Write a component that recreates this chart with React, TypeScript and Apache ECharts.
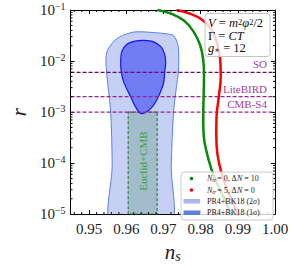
import React, { useEffect, useRef } from 'react';
import * as echarts from 'echarts';

const FONT = "'Liberation Serif', 'DejaVu Serif', 'Times New Roman', serif";

const X_MIN = 0.945;
const X_MAX = 1.0;
const Y_MIN = 1e-5;
const Y_MAX = 1e-1;

// PR4+BK18 2-sigma contour (ns, r)
const sigma2Ns = [0.9563, 0.9562, 0.9558, 0.9551, 0.9546, 0.9547, 0.9558, 0.9578, 0.9609, 0.9629, 0.9672, 0.971, 0.9727, 0.9739, 0.9741, 0.974, 0.9735, 0.9727, 0.9721, 0.9715];
const sigma2R = [5e-6, 1e-4, 1e-3, 3.15e-3, 7.46e-3, 1.43e-2, 2.05e-2, 2.85e-2, 3.54e-2, 3.75e-2, 3.62e-2, 3.4e-2, 3.15e-2, 2.05e-2, 1.01e-2, 6.0e-3, 3.15e-3, 1e-3, 1e-4, 5e-6];

// PR4+BK18 1-sigma contour (ns, r)
const sigma1Ns = [0.9647, 0.9672, 0.9693, 0.9703, 0.9706, 0.9704, 0.97, 0.9687, 0.9672, 0.9654, 0.9639, 0.9626, 0.9611, 0.9593, 0.9586, 0.9585, 0.9588, 0.9601, 0.9624];
const sigma1R = [2.54e-2, 2.4e-2, 1.91e-2, 1.37e-2, 9.27e-3, 6.85e-3, 3.63e-3, 2.04e-3, 1.32e-3, 1.0e-3, 9.4e-4, 1.22e-3, 2.04e-3, 3.91e-3, 6.47e-3, 1.05e-2, 1.54e-2, 2.11e-2, 2.46e-2];

// Euclid+CMB band
const euclidNs = [0.9605, 0.9683];
const euclidR = [1e-5, 1e-3];

// Model curves
const greenNs = [0.9684, 0.9722, 0.9755, 0.978, 0.9798, 0.9807, 0.9809, 0.9808, 0.9807, 0.9808, 0.9816, 0.9828, 0.9843, 0.9861, 0.9881];
const greenR = [1e-1, 8.41e-2, 6.21e-2, 3.86e-2, 2.11e-2, 1.05e-2, 4.84e-3, 2.04e-3, 8.6e-4, 3.62e-4, 1.66e-4, 7.96e-5, 4.17e-5, 2.18e-5, 1e-5];
const redNs = [0.9735, 0.9773, 0.9803, 0.9828, 0.9843, 0.9852, 0.9854, 0.9849, 0.9843, 0.9842, 0.9845, 0.9856, 0.9871, 0.9886, 0.9899];
const redR = [1e-1, 8.41e-2, 6.49e-2, 4.21e-2, 2.4e-2, 1.15e-2, 4.84e-3, 2.04e-3, 8.6e-4, 3.62e-4, 1.52e-4, 6.43e-5, 3.08e-5, 1.75e-5, 1e-5];

// Experiments sensitivity lines
const experiments = ['SO', 'LiteBIRD', 'CMB-S4'];
const experimentR = [6e-3, 2e-3, 1e-3];
const experimentLineColor = ['#6a0a6a', '#8e2a8e', '#8e2a8e'];

const boxLines = [
  '{i|V}{r| = }{i|m}{sup|2}{i|φ}{sup|2}{r|/2}',
  '{r|Γ = }{i|CT}',
  '{i|g}{sub|∗}{r| = 12}',
];

const legendLabels = [
  '{i|N}{sub|tr}{r|= 0, Δ}{i|N}{r| = 10}',
  '{i|N}{sub|tr}{r|= 5, Δ}{i|N}{r| = 0}',
  '{r|PR4+BK18 (2}{i|σ}{r|)}',
  '{r|PR4+BK18 (1}{i|σ}{r|)}',
];

const xMinor: number[] = [];
for (let k = 946; k < 1000; k += 2) {
  if (k % 10 !== 0) xMinor.push(k / 1000);
}
const yMinor: number[] = [];
for (let e = -5; e < -1; e++) {
  for (let m = 2; m <= 9; m++) yMinor.push(m * Math.pow(10, e));
}

export default function App() {
  const ref = useRef<HTMLDivElement>(null);
  useEffect(() => {
    document.body.style.margin = '0';
    const chart = echarts.init(ref.current!, null, { renderer: 'svg' });

    const axisLine = { show: true, onZero: false, lineStyle: { color: '#000', width: 1 } };
    const axisTick = { show: true, inside: true, length: 4, lineStyle: { color: '#000', width: 1 } };

    const polygonSeries = (ns: number[], rs: number[], fill: string, stroke: string, lw: number, z: number) => ({
      type: 'custom',
      coordinateSystem: 'cartesian2d',
      clip: true,
      z,
      silent: true,
      data: [[ns[0], rs[0]]],
      renderItem: (_p: any, api: any) => ({
        type: 'polygon',
        shape: { points: ns.map((x, i) => api.coord([x, rs[i]])), smooth: 0.35 },
        style: { fill, stroke, lineWidth: lw },
      }),
    });

    const option: any = {
      animation: false,
      grid: { left: 57, right: 17, top: 10, bottom: 45, containLabel: false },
      xAxis: [
        {
          type: 'value', min: X_MIN, max: X_MAX, splitNumber: 5, minInterval: 0.01, maxInterval: 0.01,
          position: 'bottom', axisLine, axisTick, splitLine: { show: false },
          axisLabel: {
            show: true, margin: 7, fontFamily: FONT, fontSize: 15, color: '#222', showMinLabel: false,
            formatter: (v: number) => v.toFixed(2),
          },
          name: '{n|n}{s|s}', nameLocation: 'middle', nameGap: 27,
          nameTextStyle: {
            rich: {
              n: { fontFamily: FONT, fontStyle: 'italic', fontSize: 21, lineHeight: 21, color: '#222' },
              s: { fontFamily: FONT, fontStyle: 'italic', fontSize: 14, lineHeight: 14, padding: [8, 0, 0, 0], color: '#222' },
            },
          },
        },
        {
          type: 'value', min: X_MIN, max: X_MAX, splitNumber: 5, minInterval: 0.01, maxInterval: 0.01,
          position: 'top', axisLine, axisTick, splitLine: { show: false }, axisLabel: { show: false },
        },
      ],
      yAxis: [
        {
          type: 'log', logBase: 10, min: Y_MIN, max: Y_MAX, position: 'left', axisLine, axisTick,
          splitLine: { show: false },
          axisLabel: {
            show: true, margin: 5,
            formatter: (v: number) => `{b|10}{e|−${Math.round(-Math.log10(v))}}`,
            rich: {
              b: { fontFamily: FONT, fontSize: 15, lineHeight: 15, color: '#222' },
              e: { fontFamily: FONT, fontSize: 10, lineHeight: 10, padding: [0, 0, 8, 0], color: '#222' },
            },
          },
          name: 'r', nameLocation: 'middle', nameGap: 40,
          nameTextStyle: { fontFamily: FONT, fontStyle: 'italic', fontSize: 21, color: '#222' },
        },
        {
          type: 'log', logBase: 10, min: Y_MIN, max: Y_MAX, position: 'right', axisLine, axisTick,
          splitLine: { show: false }, axisLabel: { show: false },
        },
      ],
      series: [
        polygonSeries(sigma2Ns, sigma2R, '#c6d0f5', '#5b82e8', 1, 1),
        {
          type: 'custom', coordinateSystem: 'cartesian2d', z: 2, silent: true,
          data: [[euclidNs[0], euclidR[0]]],
          renderItem: (_p: any, api: any) => {
            const a = api.coord([euclidNs[0], euclidR[1]]);
            const b = api.coord([euclidNs[1], euclidR[0]]);
            return {
              type: 'group',
              children: [
                {
                  type: 'rect',
                  shape: { x: a[0], y: a[1], width: b[0] - a[0], height: b[1] - a[1] },
                  style: { fill: '#a3bccb', stroke: '#1f6f1f', lineWidth: 1, lineDash: [3, 2] },
                },
                {
                  type: 'text', x: (a[0] + b[0]) / 2 + 0.5, y: (a[1] + b[1]) / 2 - 2, rotation: Math.PI / 2,
                  style: {
                    text: 'Euclid+CMB', fill: '#35a035', font: `11px ${FONT}`,
                    textAlign: 'center', textVerticalAlign: 'middle', align: 'center', verticalAlign: 'middle',
                  },
                },
              ],
            };
          },
        },
        polygonSeries(sigma1Ns, sigma1R, '#717cf5', '#1414f0', 1.2, 3),
        {
          type: 'custom', coordinateSystem: 'cartesian2d', z: 4, silent: true,
          data: experimentR.map((r) => [X_MAX, r]),
          renderItem: (p: any, api: any) => {
            const r = api.value(1);
            const i = p.dataIndex;
            const a = api.coord([X_MIN, r]);
            const b = api.coord([X_MAX, r]);
            return {
              type: 'group',
              children: [
                {
                  type: 'line', shape: { x1: a[0], y1: a[1], x2: b[0], y2: b[1] },
                  style: { stroke: experimentLineColor[i], lineWidth: 1.2, lineDash: [4, 2] },
                },
                {
                  type: 'text', x: b[0] - 8, y: b[1] - 2.5,
                  style: {
                    text: experiments[i], fill: '#a13ea1', font: `11px ${FONT}`,
                    textAlign: 'right', textVerticalAlign: 'bottom', align: 'right', verticalAlign: 'bottom',
                  },
                },
              ],
            };
          },
        },
        {
          type: 'line', z: 5, smooth: 0.4, showSymbol: false, silent: true,
          data: greenNs.map((x, i) => [x, greenR[i]]),
          lineStyle: { color: '#0b870b', width: 2.5 },
        },
        {
          type: 'line', z: 5, smooth: 0.4, showSymbol: false, silent: true,
          data: redNs.map((x, i) => [x, redR[i]]),
          lineStyle: { color: '#ff0000', width: 2.5 },
        },
        {
          type: 'scatter', z: 6, clip: false, silent: true, symbolSize: 4,
          data: [
            { value: [greenNs[greenNs.length - 1], greenR[greenR.length - 1]], itemStyle: { color: '#0b870b' } },
            { value: [redNs[redNs.length - 1], redR[redR.length - 1]], itemStyle: { color: '#ff0000' } },
          ],
        },
        {
          type: 'custom', coordinateSystem: 'cartesian2d', z: 7, silent: true,
          data: xMinor.map((v) => [v, Y_MIN]),
          renderItem: (_p: any, api: any) => {
            const a = api.coord([api.value(0), Y_MIN]);
            const b = api.coord([api.value(0), Y_MAX]);
            return {
              type: 'group',
              children: [
                { type: 'line', shape: { x1: a[0], y1: a[1], x2: a[0], y2: a[1] - 2 }, style: { stroke: '#000', lineWidth: 1 } },
                { type: 'line', shape: { x1: b[0], y1: b[1], x2: b[0], y2: b[1] + 2 }, style: { stroke: '#000', lineWidth: 1 } },
              ],
            };
          },
        },
        {
          type: 'custom', coordinateSystem: 'cartesian2d', z: 7, silent: true,
          data: yMinor.map((v) => [X_MIN, v]),
          renderItem: (_p: any, api: any) => {
            const a = api.coord([X_MIN, api.value(1)]);
            const b = api.coord([X_MAX, api.value(1)]);
            return {
              type: 'group',
              children: [
                { type: 'line', shape: { x1: a[0], y1: a[1], x2: a[0] + 2, y2: a[1] }, style: { stroke: '#000', lineWidth: 1 } },
                { type: 'line', shape: { x1: b[0], y1: b[1], x2: b[0] - 2, y2: b[1] }, style: { stroke: '#000', lineWidth: 1 } },
              ],
            };
          },
        },
      ],
      graphic: [
        {
          type: 'rect', z: 100, shape: { x: 205, y: 13.5, width: 65, height: 43, r: 3 },
          style: { fill: 'rgba(255,255,255,0.8)', stroke: '#c4c4c4', lineWidth: 1 },
        },
        ...boxLines.map((t, k) => ({
          type: 'text', z: 101, x: 208, y: 23 + k * 12.5,
          style: {
            text: t, align: 'left', verticalAlign: 'middle', textAlign: 'left', textVerticalAlign: 'middle',
            rich: {
              i: { fontFamily: FONT, fontStyle: 'italic', fontSize: 12.5, lineHeight: 11, fill: '#111' },
              r: { fontFamily: FONT, fontSize: 12.5, lineHeight: 11, fill: '#111' },
              sup: { fontFamily: FONT, fontSize: 8.5, lineHeight: 8, padding: [0, 0, 3, 0], fill: '#111' },
              sub: { fontFamily: FONT, fontStyle: 'italic', fontSize: 8.5, lineHeight: 8, padding: [3, 0, 0, 0], fill: '#111' },
            },
          },
        })),
        {
          type: 'rect', z: 100, shape: { x: 181, y: 172, width: 92, height: 48, r: 3 },
          style: { fill: 'rgba(255,255,255,0.8)', stroke: '#cccccc', lineWidth: 1 },
        },
        { type: 'circle', z: 101, shape: { cx: 191.5, cy: 178.5, r: 1.8 }, style: { fill: '#0b870b' } },
        { type: 'circle', z: 101, shape: { cx: 191.5, cy: 190, r: 1.8 }, style: { fill: '#ff0000' } },
        { type: 'rect', z: 101, shape: { x: 183.5, y: 199, width: 16.5, height: 4.5 }, style: { fill: '#aab4f8' } },
        { type: 'rect', z: 101, shape: { x: 183.5, y: 210.5, width: 16.5, height: 4.5 }, style: { fill: '#5f7fe0' } },
        ...legendLabels.map((t, k) => ({
          type: 'text', z: 101, x: 207, y: [178.5, 190, 201.2, 212.8][k],
          style: {
            text: t, align: 'left', verticalAlign: 'middle', textAlign: 'left', textVerticalAlign: 'middle',
            rich: {
              i: { fontFamily: FONT, fontStyle: 'italic', fontSize: 8, lineHeight: 8, fill: '#222' },
              r: { fontFamily: FONT, fontSize: 8, lineHeight: 8, fill: '#222' },
              sub: { fontFamily: FONT, fontStyle: 'italic', fontSize: 6, lineHeight: 6, padding: [3, 1, 0, 0], fill: '#222' },
            },
          },
        })),
      ],
    };

    chart.setOption(option);
    return () => chart.dispose();
  }, []);

  return <div ref={ref} style={{ position: 'absolute', left: 0, top: 0, width: 292, height: 268 }} />;
}
